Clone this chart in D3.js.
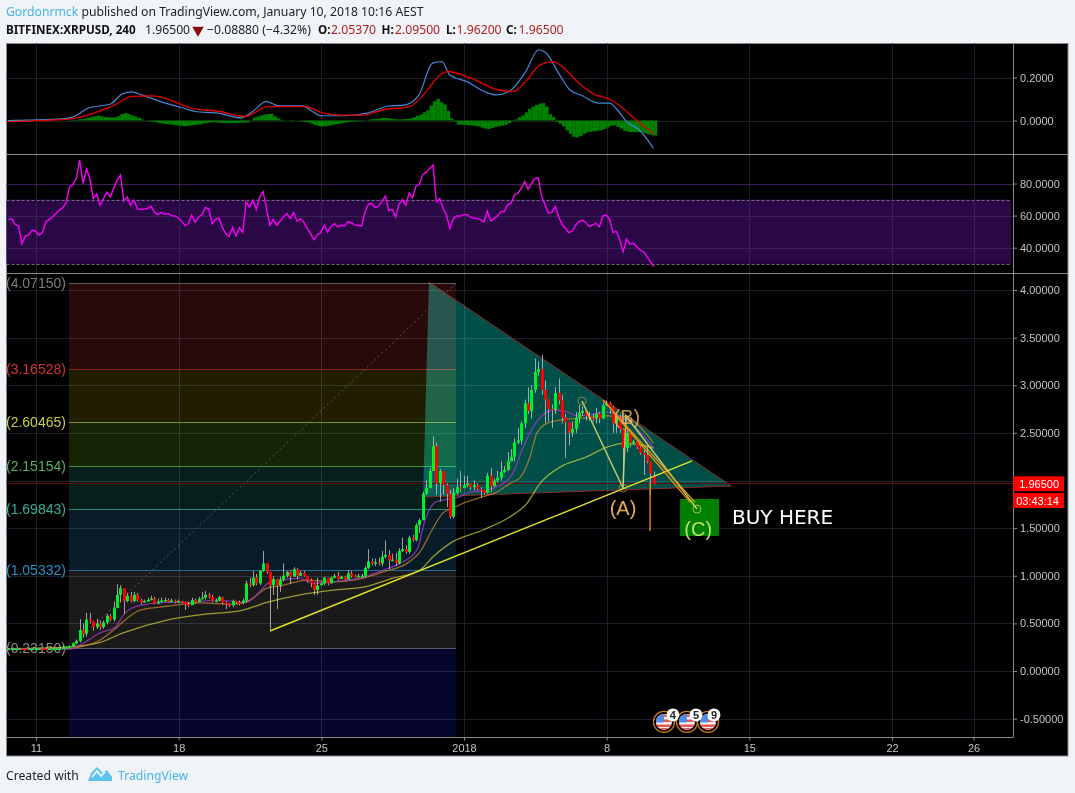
<!DOCTYPE html>
<html><head><meta charset="utf-8">
<style>html,body{margin:0;padding:0;background:#f0f3f7}svg{display:block}</style>
<script src="https://d3js.org/d3.v7.min.js"></script></head>
<body><div id="chart"></div>
<script>
// ---------- candle data, oldest to newest (4h bars) ----------
const closes=[.235,.235,.235,.236,.235,.234,.235,.235,.236,.236,.235,.234,.235,.236,.236,.237,
.25,.25,.26,.29,.315,.43,.39,.54,.52,.46,.50,.46,.51,.58,.54,.66,.80,.87,.735,.79,.735,.80,.745,.72,.735,.745,.76,.71,
.73,.74,.745,.735,.74,.73,.735,.725,.70,.69,.745,.725,.755,.77,.80,.78,.735,.74,.775,.72,.70,.69,.735,.72,.715,.74,.92,.90,.98,.92,
1.05,1.13,1.04,.90,.965,.90,.96,1.00,1.04,.99,1.07,1.00,1.03,1.00,.95,.92,.85,.90,.92,.98,.92,.98,1.00,.965,.99,.96,
1.025,1.00,.985,1.00,1.00,1.08,1.15,1.13,1.14,1.13,1.20,1.22,1.16,1.17,1.13,1.26,1.28,1.25,1.40,1.375,
1.53,1.585,1.86,1.92,2.10,2.36,1.97,2.10,1.95,1.86,1.62,1.87,1.93,1.92,1.95,1.97,1.93,1.95,1.91,1.90,
1.87,2.05,1.94,2.00,2.03,2.09,2.11,2.20,2.25,2.40,2.42,2.60,2.81,2.73,2.95,3.14,3.17,2.95,2.85,2.75,
2.74,2.92,2.84,2.66,2.61,2.50,2.54,2.66,2.71,2.73,2.68,2.66,2.65,2.70,2.65,2.79,2.81,2.77,2.60,2.66,
2.54,2.34,2.50,2.39,2.41,2.35,2.29,2.27,2.20,2.07,1.965];
const highs=[.24,.24,.24,.24,.24,.24,.24,.24,.24,.24,.24,.24,.24,.24,.24,.245,
.27,.26,.27,.30,.33,.545,.50,.61,.61,.52,.55,.53,.53,.60,.60,.73,.91,.90,.86,.82,.83,.83,.82,.76,.75,.77,.79,.78,
.76,.77,.77,.76,.76,.75,.75,.74,.73,.72,.77,.76,.78,.83,.84,.82,.80,.76,.79,.78,.73,.71,.75,.74,.74,.76,.95,.98,1.05,1.02,
1.06,1.26,1.13,1.04,1.00,.97,.99,1.13,1.05,1.05,1.09,1.08,1.05,1.05,1.00,.97,.93,.98,.93,.99,.98,.99,1.02,1.04,1.00,1.00,
1.06,1.05,1.01,1.02,1.02,1.10,1.28,1.18,1.18,1.19,1.26,1.37,1.27,1.23,1.24,1.29,1.40,1.32,1.42,1.43,
1.55,1.60,1.88,2.00,2.13,2.46,2.40,2.12,2.10,1.97,1.90,1.92,2.02,2.10,2.05,2.05,1.97,2.00,1.97,1.93,
1.90,2.08,2.13,2.02,2.10,2.20,2.15,2.30,2.33,2.44,2.55,2.62,2.85,2.98,3.00,3.28,3.25,3.32,3.05,2.85,
2.80,2.98,3.07,2.90,2.70,2.60,2.62,2.72,2.79,2.78,2.73,2.72,2.70,2.76,2.72,2.82,2.84,2.83,2.78,2.70,
2.69,2.55,2.53,2.50,2.43,2.42,2.36,2.32,2.35,2.12,2.095];
const lows=[.23,.23,.23,.23,.23,.23,.23,.23,.23,.23,.23,.23,.23,.23,.23,.23,
.24,.24,.245,.26,.28,.30,.35,.36,.50,.42,.44,.43,.44,.49,.52,.52,.66,.72,.60,.72,.72,.72,.73,.70,.72,.73,.74,.70,
.70,.72,.73,.72,.72,.71,.72,.71,.64,.67,.70,.71,.72,.75,.75,.76,.72,.72,.73,.70,.65,.67,.67,.70,.69,.70,.72,.88,.89,.90,
.90,1.04,1.02,.43,.80,.65,.83,.94,.98,.92,1.00,.96,1.00,.99,.93,.88,.80,.80,.90,.90,.90,.92,.97,.95,.97,.95,
.96,.98,.98,.98,.98,.98,1.07,1.11,1.10,1.11,1.10,1.18,1.07,1.15,1.10,1.12,1.25,1.23,1.23,1.36,
1.36,1.45,1.58,1.85,1.92,2.10,1.85,1.78,1.85,1.72,1.60,1.60,1.85,1.88,1.93,1.93,1.90,1.90,1.90,1.82,
1.85,1.86,1.88,1.93,1.98,2.00,2.08,2.10,2.20,2.20,2.38,2.38,2.55,2.70,2.65,2.92,3.10,2.90,2.60,2.62,
2.55,2.70,2.80,2.60,2.24,2.37,2.46,2.50,2.60,2.68,2.63,2.63,2.62,2.60,2.60,2.65,2.78,2.70,2.50,2.50,
2.50,1.95,2.30,2.35,2.38,2.33,2.27,2.06,2.18,1.85,1.962];
const lastCandleDay=30.31;            // days since 11 Dec

// ---------- moving averages ----------
const emaFastDays=[-1.45,1.67,2.31,3.14,3.88,4.37,5.10,6.43,7.41,8.88,10.26,10.84,11.38,12.12,12.95,13.59,14.57,16.05,17.03,17.86,18.69,19.09,19.58,19.97,20.80,21.30,22.13,22.77,23.41,23.90,24.39,24.88,25.47,26.05,26.55,27.18,28.02,28.51,29.29,29.98,30.31];
const emaFastPrices=[.235,.23,.29,.40,.46,.61,.69,.72,.72,.745,.72,.80,.92,.955,.975,.92,.935,.985,1.06,1.13,1.27,1.585,1.77,1.795,1.83,1.88,1.90,1.95,2.08,2.35,2.56,2.69,2.74,2.72,2.68,2.69,2.72,2.69,2.58,2.43,2.34];
const emaMidDays=[-1.45,1.60,2.31,3.14,3.97,4.37,5.10,6.43,8.05,9.67,10.50,11.33,12.12,13.30,14.57,16.05,17.03,18.20,18.84,19.43,19.97,20.46,20.95,21.93,22.62,23.26,23.75,24.24,24.58,25.07,25.86,27.18,28.02,28.51,29.29,29.98,30.31];
const emaMidPrices=[.235,.235,.26,.325,.46,.535,.64,.68,.715,.70,.745,.87,.90,.955,.935,.975,1.04,1.13,1.25,1.48,1.66,1.71,1.76,1.83,1.88,1.97,2.03,2.25,2.50,2.60,2.64,2.66,2.68,2.66,2.62,2.48,2.39];
const emaSlowDays=[-1.45,1.52,3.14,4.27,6.43,8.05,10.16,11.33,12.95,14.57,16.05,17.52,18.84,19.48,20.31,21.93,23.26,24.09,24.73,25.71,27.04,28.02,28.80,29.78,30.31];
const emaSlowPrices=[.235,.25,.30,.40,.535,.59,.64,.72,.80,.85,.88,.975,1.06,1.20,1.34,1.48,1.62,1.76,1.97,2.14,2.25,2.35,2.39,2.37,2.34];

// ---------- MACD pane ----------
const macdDays=[-1.39,1.05,1.80,2.55,3.68,4.24,4.71,5.18,6.12,7.25,7.80,8.93,10.06,10.63,11.29,11.93,13.05,13.98,15.11,16.24,17.20,18.14,18.79,19.46,19.92,20.30,21.15,21.99,22.55,23.21,24.03,24.66,25.00,25.74,26.19,26.81,27.62,28.16,28.52,28.97,29.60,30.29];
const macdValues=[0,.006,.016,.057,.078,.124,.133,.119,.088,.057,.042,.034,.012,.042,.088,.068,.068,.022,.022,.034,.065,.073,.119,.267,.274,.212,.181,.135,.119,.135,.228,.329,.316,.205,.143,.115,.081,.081,.050,-.005,-.043,-.129];
const signalDays=[-1.39,1.62,2.74,3.87,4.71,5.74,7.80,8.93,10.26,11.38,13.25,14.01,15.11,16.07,17.01,18.33,19.08,19.82,20.21,21.33,22.65,23.40,24.03,24.73,25.37,25.91,26.55,27.35,28.16,28.79,29.43,30.29];
const signalValues=[-.005,.006,.031,.073,.112,.115,.054,.043,.019,.065,.065,.037,.025,.025,.050,.065,.127,.212,.228,.197,.143,.135,.181,.259,.274,.243,.181,.124,.099,.057,.003,-.062];
const macdHistMilli=[1,2,3,4,6,8,12,16,20,23,20,16,15,15,15,20,30,34,30,23,18,12,5,1,-3,-6,-8,-12,-14,-16,-18,-20,-22,-24,-26,-26,-24,-22,-20,-18,-14,-12,-9,-8,-9,-11,-12,-12,-12,-12,-11,-10,-10,-9,2,14,18,24,27,30,31,20,10,3,1,-1,-2,1,-1,-4,-7,-10,-16,-22,-26,-28,-27,-24,-20,-17,-15,-12,-9,-7,-5,-4,-3,-2,1,4,6,8,10,12,12,9,7,5,5,6,7,10,15,22,28,38,47,70,90,100,85,75,45,10,-5,-19,-20,-21,-22,-23,-25,-28,-33,-38,-39,-35,-30,-27,-24,-20,-12,-4,5,15,23,38,55,65,72,78,81,65,30,16,-5,-15,-28,-45,-62,-76,-78,-72,-62,-55,-52,-50,-48,-45,-40,-32,-24,-23,-30,-38,-48,-52,-54,-54,-54,-55,-60,-64,-68,-70];

// ---------- RSI pane, one value per candle ----------
const rsiValues=[57.5,58.1,54.6,53.5,42.5,47.1,48.1,50.8,50.4,47.7,49.4,56,57.5,59.2,61.3,63.5,64.8,67.9,77.9,79.4,83.1,94.6,80,89,83.1,70.6,73.3,66.5,70.6,74.6,71.7,76.9,82.1,85.2,69.2,71.7,66.5,69.6,64.2,63.8,64,64.4,65.8,62.1,60.6,61.9,60.8,61.3,60,59.8,58.5,56.7,53.8,55,60.2,55.8,59.2,60.6,65,64.2,55,57.7,58.5,52.5,48.8,47.1,52.5,47.5,52.5,49.6,68.5,65.4,69.6,63.8,71.7,75,64.4,54,57.5,54,56.5,59.2,61.3,58.1,61.9,56.5,58.1,55.8,51.9,48.8,45,48.1,49.4,54,49.8,53.3,55,52.9,54,53.5,56.3,55.4,54.2,53.8,53.5,62.3,67.1,67.5,65,65.8,69.2,72.1,63.1,63.8,59.2,67.1,70,66.5,74.2,71,78.3,79.6,85.6,86.9,89.4,91.5,68.5,70.6,64.4,60.2,51.9,58.1,59.8,59.6,60.6,60.6,59,58.5,58.3,57.5,56,62.7,56.7,58.1,59.8,62.5,62.5,66.7,67.7,72.9,74,77,81.3,76.5,80,83.1,83.5,71.9,66.7,61.5,62.1,65.6,59.4,54.6,52.1,49.4,50.4,54,56.3,57.1,55.6,53.1,54.2,55.2,53.1,59.8,60.4,57.7,49.4,50.2,44.8,37.5,45.4,42.3,42.7,40.6,38.5,37.5,34.4,31.3,28.1];

// ---------- axes ----------
const timeTickDays=[0,7,14,21,28,35,42,46];
const timeTickLabels=["11","18","25","2018","8","15","22","26"];
const priceGrid=[-0.5,0,0.5,1,1.5,2,2.5,3,3.5,4];
const priceTicks=[-0.5,0,0.5,1,1.5,2.5,3,3.5,4];   // 2.00000 sits under the last-price tag
const macdTicks=[0,0.2];
const rsiTicks=[40,60,80];
const rsiBand=[30,70];
const lastPrice=1.965;
const countdown="03:43:14";

// ---------- fibonacci tool ----------
const fibDays=[1.62,20.61];
const fibLevels=[4.0715,3.16528,2.60465,2.15154,1.69843,1.05332,0.2315];
const fibLabels=["(4.07150)","(3.16528)","(2.60465)","(2.15154)","(1.69843)","(1.05332)","(0.23150)"];
const fibLineColors=["#5d5d5d","#8c2222","#7f8a22","#4a8a3a","#2a8a78","#1e6f96","#5d5d66"];
const fibTextColors=["#7c7c7c","#d23232","#c9d23c","#5cb05c","#35b096","#2590c6","#8a8a8a"];
const fibFills=["#280a0a","#211e00","#142405","#071f1a","#071c28","#1a1a1a","#06062c"];
const fibFloor=-0.69;

// ---------- drawings ----------
const triangleDays=[19.28,34.12,18.99];
const trianglePrices=[4.084,1.942,1.827];
const trendDays=[11.48,32.19];
const trendPrices=[.42,2.205];
const waveDays=[26.79,28.80,28.95,32.43];
const wavePrices=[2.835,1.921,2.677,1.70];
const orangeADays=[27.82,32.33];
const orangeAPrices=[2.845,1.774];
const orangeBDays=[28.31,32.09];
const orangeBPrices=[2.719,1.774];
const orangeVDays=[30.13,30.13];
const orangeVPrices=[1.98,1.47];
const zoneDays=[31.6,33.51];
const zonePrices=[1.806,1.417];
const eventDays=[30.81,31.94,32.97];
const eventLabels=["4","5","9"];

const W=1075,H=793;
const L=6.5,R=1013,RE=1068,T=43.5,B=737.5,BE=756;
const P1=154,P2=273;
const SANS="'Liberation Sans',Arial,sans-serif", HEAD="'Noto Sans',sans-serif";

const x=d3.scaleLinear().domain([0,21]).range([36,464]);
const yP=d3.scaleLinear().domain([0,4]).range([671,290]);
const yM=d3.scaleLinear().domain([0,0.2]).range([120.5,77.5]);
const yR=d3.scaleLinear().domain([40,80]).range([247.7,183.5]);

const svg=d3.select("#chart").append("svg").attr("width",W).attr("height",H);
const N=closes.length, step=1/6;
const candleDay=i=>lastCandleDay-(N-1-i)*step;
const candles=closes.map((c,i)=>({day:candleDay(i),o:i?closes[i-1]:c,c,h:highs[i],l:lows[i]}));
candles[N-1].o=2.0537;

// header
const head=svg.append("g").attr("font-family",HEAD);
const t1=head.append("text").attr("x",6).attr("y",16).attr("font-size",12.2).attr("fill","#222");
t1.append("tspan").attr("fill","#47b4e8").text("Gordonrmck");
t1.append("tspan").text(" published on TradingView.com, January 10, 2018 10:16 AEST");
const rowY=34;
head.append("text").attr("x",6).attr("y",rowY).attr("font-size",11.7).attr("font-weight",700).attr("fill","#111").text("BITFINEX:XRPUSD, 240");
head.append("text").attr("x",145).attr("y",rowY).attr("font-size",12.2).attr("fill","#222").text("1.96500");
head.append("path").attr("d",d3.symbol(d3.symbolTriangle,58)).attr("transform",`translate(198,${rowY-4}) rotate(180)`).attr("fill","#8c0b0b");
head.append("text").attr("x",207).attr("y",rowY).attr("font-size",12.2).attr("fill","#222").text("−0.08880 (−4.32%)");
[["O:",318,"2.05370",331],["H:",381.5,"2.09500",395],["L:",446,"1.96200",456.5],["C:",506,"1.96500",518.5]].forEach(a=>{
  head.append("text").attr("x",a[1]).attr("y",rowY).attr("font-size",11.7).attr("font-weight",700).attr("fill","#111").text(a[0]);
  head.append("text").attr("x",a[3]).attr("y",rowY).attr("font-size",12.2).attr("fill","#b02020").text(a[2]);
});

// black panel
svg.append("rect").attr("x",L).attr("y",T).attr("width",RE-L).attr("height",BE-T).attr("fill","#000").attr("stroke","#8a8a8a");

// grid
const GRID="#1d1d2b";
const grid=svg.append("g").attr("stroke",GRID).attr("stroke-width",1);
timeTickDays.forEach(d=>{const X=Math.round(x(d))+.5;grid.append("line").attr("x1",X).attr("x2",X).attr("y1",T).attr("y2",B);});
const hline=(g,y)=>g.append("line").attr("x1",L).attr("x2",R).attr("y1",Math.round(y)+.5).attr("y2",Math.round(y)+.5);
priceGrid.forEach(v=>hline(grid,yP(v)));
macdTicks.forEach(v=>hline(grid,yM(v)));

// RSI band (grid shown through)
const bandG=svg.append("g");
bandG.append("rect").attr("x",L).attr("width",R-2-L).attr("y",yR(rsiBand[1])).attr("height",yR(rsiBand[0])-yR(rsiBand[1])).attr("fill","#2a0846");
rsiTicks.forEach(v=>hline(grid,yR(v)));
const rsiGrid=svg.append("g").attr("stroke","#3a2058");
rsiTicks.forEach(v=>hline(rsiGrid,yR(v)));
timeTickDays.forEach(d=>{const X=Math.round(x(d))+.5;rsiGrid.append("line").attr("x1",X).attr("x2",X).attr("y1",yR(rsiBand[1])).attr("y2",yR(rsiBand[0]));});
rsiBand.forEach(v=>bandG.append("line").attr("x1",L).attr("x2",R-2).attr("y1",Math.round(yR(v))+.5).attr("y2",Math.round(yR(v))+.5).attr("stroke","#75687f").attr("stroke-dasharray","3 2"));

// MACD
const macdPane=svg.append("g");
const binW=x(step)-x(0);
macdPane.selectAll("rect").data(macdHistMilli).join("rect")
 .attr("x",(d,i)=>x(candleDay(N-macdHistMilli.length+i))).attr("width",binW+.15)
 .attr("y",d=>Math.min(yM(d/1000),yM(0))).attr("height",d=>Math.abs(yM(d/1000)-yM(0)))
 .attr("fill","#008000");
const lineOf=(ys)=>d3.line().x(d=>x(d[0])).y(d=>ys(d[1]));
const zip=(a,b)=>a.map((v,i)=>[v,b[i]]);
macdPane.append("path").attr("d",lineOf(yM).curve(d3.curveMonotoneX)(zip(macdDays,macdValues))).attr("fill","none").attr("stroke","#4a86d8").attr("stroke-width",1.2);
macdPane.append("path").attr("d",lineOf(yM).curve(d3.curveMonotoneX)(zip(signalDays,signalValues))).attr("fill","none").attr("stroke","#e60000").attr("stroke-width",1.3);

// RSI
svg.append("path").attr("d",d3.line().x((d,i)=>x(candleDay(i))).y(d=>yR(d))(rsiValues)).attr("fill","none").attr("stroke","#f800f8").attr("stroke-width",1.4);

// Fibonacci bands
const fib=svg.append("g");
const fibEdges=fibLevels.concat([fibFloor]);
fibFills.forEach((c,i)=>{
 fib.append("rect").attr("x",x(fibDays[0])).attr("width",x(fibDays[1])-x(fibDays[0]))
  .attr("y",yP(fibEdges[i])).attr("height",yP(fibEdges[i+1])-yP(fibEdges[i]))
  .attr("fill",c).style("mix-blend-mode","screen");
});
// triangle
svg.append("polygon").attr("points",triangleDays.map((d,i)=>[x(d),yP(trianglePrices[i])].join(",")).join(" "))
 .attr("fill","#004f48").style("mix-blend-mode","screen");
const triLine=svg.append("g").attr("stroke","#8a2a2a").attr("stroke-width",1).attr("fill","none");
triLine.append("path").attr("d",d3.line().x(i=>x(triangleDays[i])).y(i=>yP(trianglePrices[i]))([0,1,2]));
// fib lines
fibLevels.forEach((v,i)=>{
 const Y=Math.floor(yP(v))+.5;
 fib.append("line").attr("x1",x(fibDays[0])).attr("x2",x(fibDays[1])).attr("y1",Y).attr("y2",Y).attr("stroke",fibLineColors[i]);
});
// dashed diagonal
svg.append("line").attr("x1",x(fibDays[0])).attr("y1",yP(fibLevels[6])).attr("x2",x(fibDays[1])).attr("y2",yP(fibLevels[0]))
 .attr("stroke","#5a5a5a").attr("stroke-dasharray","2 3");
// fib labels
fibLevels.forEach((v,i)=>svg.append("text").attr("x",6).attr("y",yP(v)+4.5).attr("font-family",SANS).attr("font-size",14).attr("fill",fibTextColors[i]).text(fibLabels[i]));

// price line
svg.append("line").attr("x1",L).attr("x2",R).attr("y1",Math.floor(yP(lastPrice))+.5).attr("y2",Math.floor(yP(lastPrice))+.5).attr("stroke","#5e0c0c");

// EMAs
const emaLine=lineOf(yP).curve(d3.curveMonotoneX);
[[emaSlowDays,emaSlowPrices,"#d8d83a",.68,1.3],[emaMidDays,emaMidPrices,"#d08a2e",.7,1.3],[emaFastDays,emaFastPrices,"#a838d0",.75,1.3]].forEach(s=>{
 svg.append("path").attr("d",emaLine(zip(s[0],s[1]))).attr("fill","none").attr("stroke",s[2]).attr("stroke-opacity",s[3]).attr("stroke-width",s[4]);
});

// candles
const cg=svg.append("g");
const bw=3;
cg.selectAll("line").data(candles).join("line")
 .attr("x1",d=>Math.round(x(d.day))+.5).attr("x2",d=>Math.round(x(d.day))+.5).attr("y1",d=>yP(d.h)).attr("y2",d=>yP(d.l))
 .attr("stroke","#d8d8d8").attr("stroke-opacity",.7).attr("stroke-width",1);
cg.selectAll("rect").data(candles).join("rect")
 .attr("x",d=>Math.round(x(d.day))-1).attr("width",bw)
 .attr("y",d=>yP(Math.max(d.o,d.c))).attr("height",d=>Math.max(1.5,Math.abs(yP(d.o)-yP(d.c))))
 .attr("fill",d=>d.c>=d.o?"#00f02e":"#ff0000");

// drawings
svg.append("rect").attr("x",x(zoneDays[0])).attr("width",x(zoneDays[1])-x(zoneDays[0]))
 .attr("y",yP(zonePrices[0])).attr("height",yP(zonePrices[1])-yP(zonePrices[0])).attr("fill","#008000");
const dl=(days,prices,color,w,op)=>svg.append("path").attr("d",lineOf(yP)(zip(days,prices))).attr("fill","none").attr("stroke",color).attr("stroke-width",w).attr("stroke-opacity",op||1);
dl(trendDays,trendPrices,"#e2e228",1.4);
dl(waveDays,wavePrices,"#d8d870",1.6,.85);
dl(orangeADays,orangeAPrices,"#f09a10",1.2);
dl(orangeBDays,orangeBPrices,"#f09a10",1.2);
dl(orangeVDays,orangeVPrices,"#e8890c",1.4);
[0,1,3].forEach(i=>svg.append("circle").attr("cx",x(waveDays[i])).attr("cy",yP(wavePrices[i])).attr("r",4)
 .attr("fill","none").attr("stroke",i==3?"#c0d050":"#a08a48").attr("stroke-opacity",.85));
const waveText=(label,day,price,col,op)=>svg.append("text").attr("x",x(day)).attr("y",yP(price)).attr("text-anchor","middle")
 .attr("font-family",SANS).attr("font-size",20).attr("fill",col).attr("fill-opacity",op).text(label);
waveText("(A)",28.8,1.638,"#f5b45e",.95);
waveText("(B)",28.99,2.593,"#f5b45e",.8);
waveText("(C)",32.49,1.417,"#b4e25c",1);
svg.append("text").attr("x",732).attr("y",524).attr("font-family","'DejaVu Sans',sans-serif").attr("font-size",20).attr("fill","#fff").text("BUY HERE");

// event flags
eventDays.forEach((d,i)=>{
 const cx=x(d), cy=yP(-0.535), g=svg.append("g"), cid="fc"+i;
 g.append("clipPath").attr("id",cid).append("circle").attr("cx",cx).attr("cy",cy).attr("r",8);
 const f=g.append("g").attr("clip-path",`url(#${cid})`);
 f.append("rect").attr("x",cx-9).attr("y",cy-9).attr("width",18).attr("height",18).attr("fill","#f8f8f8");
 [-7.5,-2.5,2.5,6].forEach(o=>f.append("rect").attr("x",cx-9).attr("y",cy+o).attr("width",18).attr("height",2.6).attr("fill","#e85a5a"));
 f.append("rect").attr("x",cx-9).attr("y",cy-9).attr("width",9).attr("height",9.5).attr("fill","#4d8ce0");
 g.append("circle").attr("cx",cx).attr("cy",cy).attr("r",10.5).attr("fill","none").attr("stroke","#c97a14").attr("stroke-width",1.3);
});
eventDays.forEach((d,i)=>{
 const cx=x(d)+(i==2?6:9), cy=yP(-0.535)-7;
 svg.append("circle").attr("cx",cx).attr("cy",cy).attr("r",6.5).attr("fill","#fff");
 svg.append("text").attr("x",cx).attr("y",cy+4).attr("text-anchor","middle").attr("font-family",SANS).attr("font-size",11).attr("font-weight",700).attr("fill","#222").text(eventLabels[i]);
});

// axes
const axisStyle=g=>{g.attr("font-family",SANS).attr("font-size",11);g.select(".domain").remove();g.selectAll("line").attr("stroke","#8a8a8a");g.selectAll("text").attr("fill","#c4c4c4");};
const plain=f=>v=>f(v).replace("−","-");
svg.append("g").attr("transform",`translate(${R},0)`).call(d3.axisRight(yP).tickValues(priceTicks).tickSize(4).tickPadding(3).tickFormat(plain(d3.format(".5f")))).call(axisStyle);
svg.append("g").attr("transform",`translate(${R},0)`).call(d3.axisRight(yM).tickValues(macdTicks).tickSize(4).tickPadding(3).tickFormat(d3.format(".4f"))).call(axisStyle);
svg.append("g").attr("transform",`translate(${R},0)`).call(d3.axisRight(yR).tickValues(rsiTicks).tickSize(4).tickPadding(3).tickFormat(d3.format(".4f"))).call(axisStyle);
svg.append("g").attr("transform",`translate(0,${B})`).call(d3.axisBottom(x).tickValues(timeTickDays).tickSize(3).tickPadding(4).tickFormat((d,i)=>timeTickLabels[i])).call(axisStyle);

// pane separators
const sep=svg.append("g").attr("stroke","#8a8a8a");
sep.append("line").attr("x1",R+.5).attr("x2",R+.5).attr("y1",T).attr("y2",B);
sep.append("line").attr("x1",L).attr("x2",R).attr("y1",B).attr("y2",B);
[P1,P2].forEach(y=>sep.append("line").attr("x1",L).attr("x2",RE).attr("y1",y+.5).attr("y2",y+.5));

// last price labels
const lp=svg.append("g").attr("font-family",SANS).attr("font-size",11).attr("fill","#fff");
lp.append("rect").attr("x",R).attr("y",yP(lastPrice)-7.5).attr("width",51).attr("height",15).attr("fill","#ff0000");
lp.append("rect").attr("x",R).attr("y",yP(lastPrice)+9.2).attr("width",51).attr("height",15).attr("fill","#ff0000");
lp.append("text").attr("x",R+46).attr("y",yP(lastPrice)+4).attr("text-anchor","end").text(d3.format(".5f")(lastPrice));
lp.append("text").attr("x",R+46).attr("y",yP(lastPrice)+20.7).attr("text-anchor","end").text(countdown);

// footer
const foot=svg.append("g").attr("font-family",HEAD).attr("font-size",12.2);
foot.append("text").attr("x",6).attr("y",780).attr("fill","#222").text("Created with");
foot.append("text").attr("x",118).attr("y",780).attr("fill","#47b4e8").text("TradingView");
foot.append("path").attr("d","M88 781 L91 773 L97 767 L103 773 L107 770 L112 777 L112 781 Z").attr("fill","#5cc3ee");
foot.append("path").attr("d","M92 777 L97 771 L101 776 L105 772").attr("fill","none").attr("stroke","#fff").attr("stroke-width",1.6);
</script></body></html>
